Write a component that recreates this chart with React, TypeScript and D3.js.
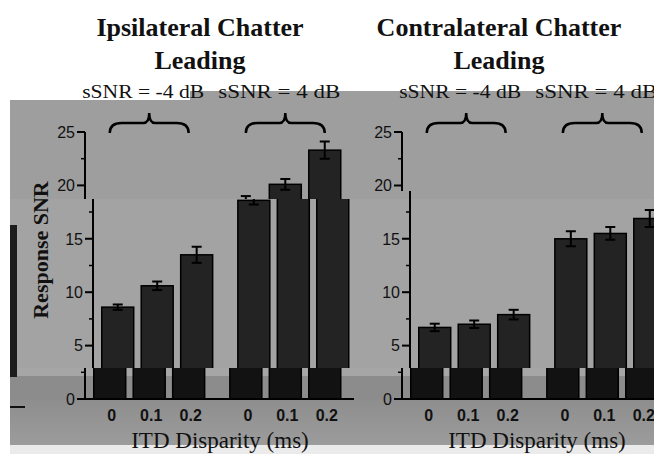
import * as d3 from 'd3'

const W = 654
const H = 454

// categories
const itdLabels = ['0', '0.1', '0.2']
const snrGroups = ['sSNR = -4 dB', 'sSNR = 4 dB']
const yTicks = [0, 5, 10, 15, 20, 25]
const yMinorTicks = [2.5, 7.5, 12.5, 17.5, 22.5]

// response SNR means and error bars
const ipsiLow = [8.6, 10.6, 13.5]
const ipsiLowErr = [0.25, 0.4, 0.75]
const ipsiHigh = [18.6, 20.1, 23.3]
const ipsiHighErr = [0.4, 0.5, 0.8]
const contraLow = [6.7, 7.0, 7.9]
const contraLowErr = [0.35, 0.35, 0.45]
const contraHigh = [15.0, 15.5, 16.9]
const contraHighErr = [0.7, 0.6, 0.8]

const panels = [
  {
    key: 'ipsi',
    title: ['Ipsilateral Chatter', 'Leading'],
    axisX: 85,
    titleX: 200,
    means: [ipsiLow, ipsiHigh],
    errs: [ipsiLowErr, ipsiHighErr],
    yTitle: true,
  },
  {
    key: 'contra',
    title: ['Contralateral Chatter', 'Leading'],
    axisX: 402,
    titleX: 499,
    means: [contraLow, contraHigh],
    errs: [contraLowErr, contraHighErr],
    yTitle: false,
  },
]

const y = d3.scaleLinear().domain([0, 25]).range([399, 132])

const serif = '"Liberation Serif", "Times New Roman", serif'
const sans = '"Liberation Sans", Arial, sans-serif'

// the scan is torn into horizontal strips; the middle strip is shifted right
const bandShift = (yy, xx) => {
  const top = xx < 387 ? 199 : 191
  return yy > top && yy < 368 ? 8 : 0
}

function scalesFor(p) {
  const x0 = d3
    .scaleBand()
    .domain(snrGroups)
    .range([p.axisX + 5, p.axisX + 259.5])
    .paddingInner(0.13)
  const x1 = d3
    .scaleBand()
    .domain(itdLabels)
    .range([0, x0.bandwidth()])
    .paddingInner(0.19)
    .paddingOuter(0.095)
  const bw = x1.bandwidth()
  const cx = (g, t) => x0(g) + x1(t) + bw / 2
  return { x0, x1, bw, cx }
}

function PanelMarks({ p, dark }) {
  const { x0, x1, bw, cx } = scalesFor(p)
  return (
    <g>
      {/* group braces */}
      {snrGroups.map((g) => {
        const a = cx(g, itdLabels[0])
        const b = cx(g, itdLabels[itdLabels.length - 1])
        const m = (a + b) / 2
        const path = `M${a},133 Q${a},123 ${a + 12},123 L${m - 6},123 Q${m},123 ${m},113 Q${m},123 ${m + 6},123 L${b - 12},123 Q${b},123 ${b},133`
        return <path key={g} d={path} fill="none" stroke="#000" strokeWidth={2.5} />
      })}

      {/* bars */}
      {snrGroups.map((g, gi) =>
        itdLabels.map((t, i) => (
          <rect
            key={g + t}
            x={x0(g) + x1(t)}
            y={y(p.means[gi][i])}
            width={bw}
            height={y(0) - y(p.means[gi][i])}
            fill={dark ? '#121212' : '#232323'}
            stroke="#000"
            strokeWidth={1.5}
          />
        ))
      )}

      {/* error bars */}
      {snrGroups.map((g, gi) =>
        itdLabels.map((t, i) => {
          const c = cx(g, t)
          const top = y(p.means[gi][i] + p.errs[gi][i])
          const bot = y(p.means[gi][i] - p.errs[gi][i])
          return (
            <g key={'e' + g + t} stroke="#000" strokeWidth={2}>
              <line x1={c} x2={c} y1={top} y2={bot} />
              <line x1={c - 5} x2={c + 5} y1={top} y2={top} />
              <line x1={c - 5} x2={c + 5} y1={bot} y2={bot} />
            </g>
          )
        })
      )}

      {/* axes */}
      <line x1={p.axisX} x2={p.axisX} y1={y(0)} y2={y(25)} stroke="#000" strokeWidth={2} />
      {yTicks.map((v) => (
        <line
          key={'yt' + v}
          x1={p.axisX - 8}
          x2={p.axisX}
          y1={y(v)}
          y2={y(v)}
          stroke="#000"
          strokeWidth={2}
        />
      ))}
      {yMinorTicks.map((v) => (
        <line
          key={'ym' + v}
          x1={p.axisX - 4}
          x2={p.axisX}
          y1={y(v)}
          y2={y(v)}
          stroke="#000"
          strokeWidth={1.5}
        />
      ))}
      <line x1={p.axisX} x2={p.axisX + 269} y1={y(0)} y2={y(0)} stroke="#000" strokeWidth={2} />
    </g>
  )
}

function PanelText({ p }) {
  const { cx } = scalesFor(p)
  return (
    <g fill="#111">
      {p.title.map((t, i) => (
        <text
          key={t}
          x={p.titleX}
          y={36 + i * 33}
          textAnchor="middle"
          fontFamily={serif}
          fontWeight="bold"
          fontSize={26}
        >
          {t}
        </text>
      ))}

      {snrGroups.map((g) => {
        const m = (cx(g, itdLabels[0]) + cx(g, itdLabels[2])) / 2
        return (
          <text
            key={g}
            x={m - 6}
            y={98}
            textAnchor="middle"
            fontFamily={serif}
            fontSize={19}
            textLength={122}
            lengthAdjust="spacingAndGlyphs"
          >
            {g}
          </text>
        )
      })}

      {yTicks.map((v) => (
        <text
          key={'yl' + v}
          x={p.axisX - 10 + bandShift(y(v), p.axisX)}
          y={y(v)}
          dy="0.36em"
          textAnchor="end"
          fontFamily={sans}
          fontSize={16}
        >
          {v}
        </text>
      ))}

      {snrGroups.map((g) =>
        itdLabels.map((t) => (
          <text
            key={'xl' + g + t}
            x={cx(g, t) + 2}
            y={421}
            textAnchor="middle"
            fontFamily={sans}
            fontWeight="bold"
            fontSize={16}
          >
            {t}
          </text>
        ))
      )}

      <text
        x={p.axisX + 135}
        y={448}
        textAnchor="middle"
        fontFamily={serif}
        fontSize={23}
      >
        ITD Disparity (ms)
      </text>

      {p.yTitle && (
        <text
          transform={`translate(${p.axisX - 45 + bandShift(250, 0)},250) rotate(-90)`}
          textAnchor="middle"
          fontFamily={serif}
          fontWeight="bold"
          fontSize={22}
        >
          Response SNR
        </text>
      )}
    </g>
  )
}

function Marks({ dark = false }) {
  return (
    <g>
      {panels.map((p) => (
        <PanelMarks key={p.key} p={p} dark={dark} />
      ))}
    </g>
  )
}

export default function App() {
  return (
    <svg
      width={W}
      height={H}
      style={{ position: 'absolute', left: 0, top: 0, background: '#fff' }}
    >
      <defs>
        <clipPath id="bandA">
          <path d="M0,0H387V199H0Z M387,0H654V191H387Z" />
        </clipPath>
        <clipPath id="bandB">
          <path d="M0,199H387V368H0Z M387,191H654V368H387Z" />
        </clipPath>
        <clipPath id="bandCD">
          <rect x={0} y={368} width={W} height={30} />
        </clipPath>
        <clipPath id="bandE">
          <rect x={0} y={398} width={W} height={H - 398} />
        </clipPath>
        <linearGradient id="gradE" x1="0" x2="0" y1="0" y2="1">
          <stop offset="0" stopColor="#8e8e8e" />
          <stop offset="1" stopColor="#9c9c9c" />
        </linearGradient>
      </defs>

      {/* backgrounds of the scanned strips */}
      <rect x={0} y={0} width={W} height={H} fill="#fff" />
      <rect x={10} y={100} width={180} height={99} fill="#9e9e9e" />
      <rect x={190} y={91} width={W - 190} height={108} fill="#9e9e9e" />
      <rect x={10} y={199} width={W - 10} height={169} fill="#a3a3a3" />
      <rect x={10} y={368} width={W - 10} height={8} fill="#a6a6a6" />
      <rect x={10} y={376} width={W - 10} height={24} fill="#8c8c8c" />
      <rect x={10} y={400} width={W - 10} height={45} fill="url(#gradE)" />
      <rect x={10} y={445} width={W - 10} height={H - 445} fill="#ebebeb" />
      <rect x={10} y={225} width={7} height={152} fill="#1c1c1c" />
      <line x1={10} x2={25} y1={407} y2={407} stroke="#111" strokeWidth={2} />

      <g clipPath="url(#bandA)">
        <Marks />
      </g>
      <g clipPath="url(#bandB)">
        <g transform="translate(8,0)">
          <Marks />
        </g>
      </g>
      <g clipPath="url(#bandCD)">
        <Marks dark />
      </g>
      <g clipPath="url(#bandE)">
        <Marks />
      </g>

      {panels.map((p) => (
        <PanelText key={p.key} p={p} />
      ))}
    </svg>
  )
}
